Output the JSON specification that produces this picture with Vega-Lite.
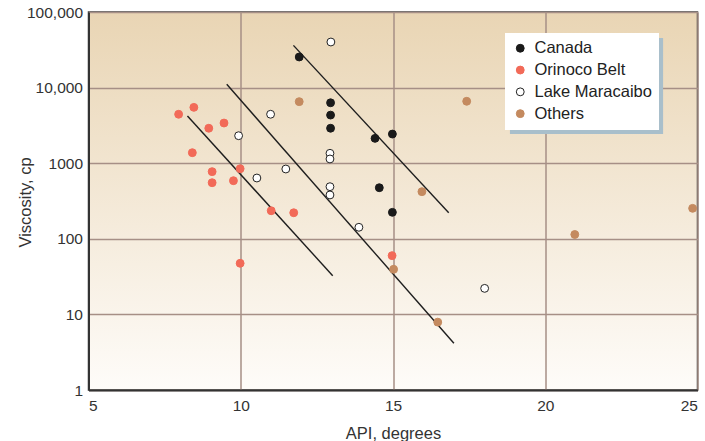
{
  "$schema": "https://vega.github.io/schema/vega-lite/v6.json",
  "width": 609,
  "height": 378,
  "autosize": "none",
  "padding": {"left": 88.5, "top": 12, "right": 7.5, "bottom": 51},
  "background": "white",
  "config": {
    "font": "Liberation Sans, Arial, sans-serif",
    "view": {
      "fill": {"gradient": "linear", "x1": 0, "y1": 0, "x2": 0, "y2": 1,
        "stops": [{"offset": 0, "color": "#e9d5b4"}, {"offset": 1, "color": "#fefcf9"}]},
      "stroke": "#3c3c3c",
      "strokeWidth": 1.5
    },
    "axis": {
      "labelFont": "Liberation Sans, Arial, sans-serif",
      "titleFont": "Liberation Sans, Arial, sans-serif",
      "labelColor": "#333",
      "titleColor": "#333",
      "titleFontWeight": "normal",
      "labelFontSize": 15.5,
      "titleFontSize": 16.5,
      "grid": true,
      "gridColor": "#a68f86",
      "gridWidth": 1.5,
      "gridOpacity": 1,
      "ticks": false,
      "domainColor": "#333",
      "domainWidth": 2
    }
  },
  "datasets": {
    "pts": [
      {"region": "Canada", "api": 11.92, "visc": 25400},
      {"region": "Canada", "api": 12.95, "visc": 6300},
      {"region": "Canada", "api": 12.95, "visc": 4330},
      {"region": "Canada", "api": 12.95, "visc": 2900},
      {"region": "Canada", "api": 14.41, "visc": 2130},
      {"region": "Canada", "api": 14.98, "visc": 2430},
      {"region": "Canada", "api": 14.55, "visc": 474},
      {"region": "Canada", "api": 14.98, "visc": 224},
      {"region": "Orinoco Belt", "api": 7.96, "visc": 4440},
      {"region": "Orinoco Belt", "api": 8.46, "visc": 5480},
      {"region": "Orinoco Belt", "api": 8.95, "visc": 2900},
      {"region": "Orinoco Belt", "api": 9.45, "visc": 3400},
      {"region": "Orinoco Belt", "api": 8.41, "visc": 1377},
      {"region": "Orinoco Belt", "api": 9.06, "visc": 773},
      {"region": "Orinoco Belt", "api": 9.06, "visc": 552},
      {"region": "Orinoco Belt", "api": 9.76, "visc": 587},
      {"region": "Orinoco Belt", "api": 9.98, "visc": 845},
      {"region": "Orinoco Belt", "api": 11.0, "visc": 235},
      {"region": "Orinoco Belt", "api": 11.74, "visc": 221},
      {"region": "Orinoco Belt", "api": 9.98, "visc": 47.4},
      {"region": "Orinoco Belt", "api": 14.97, "visc": 59.9},
      {"region": "Lake Maracaibo", "api": 12.96, "visc": 40100},
      {"region": "Lake Maracaibo", "api": 10.98, "visc": 4440},
      {"region": "Lake Maracaibo", "api": 9.93, "visc": 2310},
      {"region": "Lake Maracaibo", "api": 12.93, "visc": 1352},
      {"region": "Lake Maracaibo", "api": 12.93, "visc": 1138},
      {"region": "Lake Maracaibo", "api": 11.48, "visc": 838},
      {"region": "Lake Maracaibo", "api": 10.53, "visc": 637},
      {"region": "Lake Maracaibo", "api": 12.93, "visc": 489},
      {"region": "Lake Maracaibo", "api": 12.93, "visc": 380},
      {"region": "Lake Maracaibo", "api": 13.88, "visc": 142},
      {"region": "Lake Maracaibo", "api": 18.01, "visc": 22.1},
      {"region": "Others", "api": 11.92, "visc": 6520},
      {"region": "Others", "api": 17.42, "visc": 6590},
      {"region": "Others", "api": 15.95, "visc": 420},
      {"region": "Others", "api": 15.02, "visc": 39.5},
      {"region": "Others", "api": 16.47, "visc": 7.9},
      {"region": "Others", "api": 20.97, "visc": 114},
      {"region": "Others", "api": 24.84, "visc": 253}
    ],
    "lines": [
      {"trend": "a", "api": 11.73, "visc": 36200},
      {"trend": "a", "api": 16.83, "visc": 221},
      {"trend": "b", "api": 9.54, "visc": 11070},
      {"trend": "b", "api": 17.0, "visc": 4.15},
      {"trend": "c", "api": 8.25, "visc": 4210},
      {"trend": "c", "api": 13.02, "visc": 32.5}
    ]
  },
  "layer": [
    {
      "data": {"values": [{}]},
      "mark": {"type": "rect", "fill": "#a9bfcb"},
      "encoding": {
        "x": {"datum": 18.84, "type": "quantitative"},
        "x2": {"datum": 23.87},
        "y": {"datum": 45300, "type": "quantitative"},
        "y2": {"datum": 2430}
      }
    },
    {
      "data": {"name": "lines"},
      "mark": {"type": "line", "color": "#1e1e1e", "strokeWidth": 1.4},
      "encoding": {
        "x": {"field": "api", "type": "quantitative"},
        "y": {"field": "visc", "type": "quantitative"},
        "detail": {"field": "trend"}
      }
    },
    {
      "data": {"name": "pts"},
      "mark": {"type": "point", "filled": true, "shape": "circle", "size": 62, "strokeWidth": 1, "opacity": 1},
      "encoding": {
        "x": {
          "field": "api", "type": "quantitative",
          "scale": {"domain": [5, 25], "nice": false, "zero": false},
          "axis": {"values": [5, 10, 15, 20, 25], "title": "API, degrees", "labelPadding": 8, "titleY": 48, "titleBaseline": "alphabetic"}
        },
        "y": {
          "field": "visc", "type": "quantitative",
          "scale": {"type": "log", "domain": [1, 100000], "nice": false},
          "axis": {"values": [1, 10, 100, 1000, 10000, 100000], "title": "Viscosity, cp", "labelPadding": 6,
            "labelExpr": "datum.value >= 10000 ? format(datum.value, ',') : format(datum.value, 'd')",
            "titleX": -55, "titleY": 190, "titleBaseline": "bottom"}
        },
        "fill": {
          "field": "region", "type": "nominal",
          "scale": {"domain": ["Canada", "Orinoco Belt", "Lake Maracaibo", "Others"], "range": ["#1a1a1a", "#f26a58", "#ffffff", "#c48a5f"]},
          "legend": {"title": null}
        },
        "stroke": {
          "field": "region", "type": "nominal",
          "scale": {"domain": ["Canada", "Orinoco Belt", "Lake Maracaibo", "Others"], "range": ["#1a1a1a", "#f26a58", "#222222", "#c48a5f"]},
          "legend": {
            "title": null, "orient": "none", "legendX": 416.5, "legendY": 21,
            "fillColor": "white", "padding": 7, "labelFontSize": 16.5, "labelColor": "#222",
            "labelFont": "Liberation Sans, Arial, sans-serif",
            "symbolSize": 62, "symbolStrokeWidth": 1, "labelOffset": 6, "rowPadding": 4.8
          }
        }
      }
    }
  ]
}
